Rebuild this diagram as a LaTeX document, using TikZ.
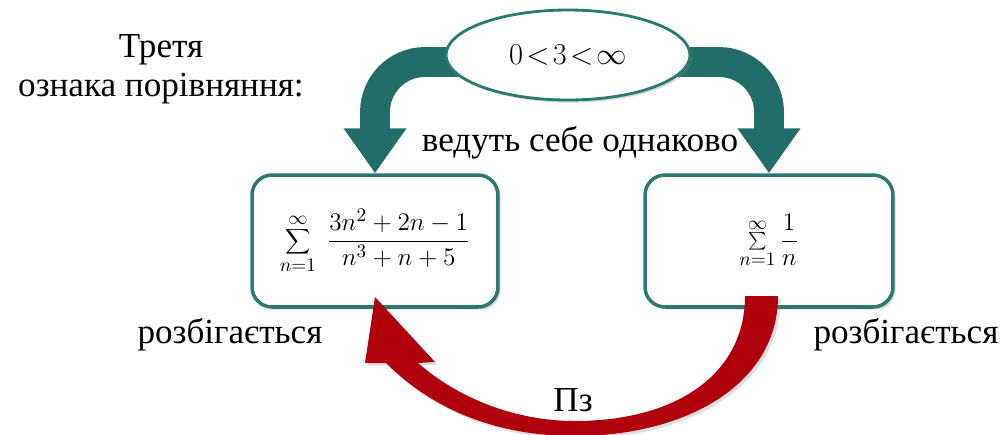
\documentclass[tikz,border=0pt]{standalone}
\usepackage{fontspec}
\setmainfont{Liberation Serif}
\usepackage{tikz}
\usetikzlibrary{arrows.meta,positioning,shapes.geometric,shadows,backgrounds}

\definecolor{seagreen}{HTML}{216D67}
\definecolor{boxgreen}{HTML}{2B7A71}
\definecolor{darkred}{HTML}{B0000C}

\begin{document}
\begin{tikzpicture}[
  x=0.02cm, y=-0.02cm,
  every node/.style={font=\fontsize{20}{22}\selectfont},
  series/.style={draw=boxgreen, line width=2pt, rounded corners=0.4cm, fill=white,
    minimum width=4.92cm, minimum height=2.64cm, font=\fontsize{15}{17}\selectfont,
    drop shadow={opacity=0.3, shadow xshift=1.5pt, shadow yshift=-1.5pt}},
  ratio/.style={ellipse, draw=boxgreen, line width=1.6pt, fill=white,
    minimum width=4.88cm, minimum height=1.8cm, font=\fontsize{19}{21}\selectfont,
    drop shadow={opacity=0.3, shadow xshift=1.5pt, shadow yshift=-1.5pt}},
  bandarrow/.style={draw=seagreen, line width=17pt, rounded corners=1cm,
    -{Triangle[width=1.2cm,length=0.9cm]}},
  note/.style={align=center}
]
\useasboundingbox (0,0) rectangle (1007,434);

\node[ratio] (ratio) at (568,55) {$0\!<\!3\!<\!\infty$};
\node[series] (series) at (375,241)
  {$\displaystyle\sum_{n=1}^{\infty}\;\frac{3n^2+2n-1}{n^3+n+5}$};
\node[series, minimum width=4.96cm] (harmonic) at (769,241)
  {$\sum\limits_{n=1}^{\infty}{\displaystyle\frac{1}{n}}$};

\node[note] (title) at (161,69) {Третя\\ознака порівняння:};
\node[note] (same) at (580,143) {ведуть себе однаково};
\node[note] (divl) at (230,335) {розбігається};
\node[note] (divr) at (906,335) {розбігається};

% teal arrows under the ellipse
\begin{scope}[on background layer]
  \draw[bandarrow] ([yshift=-0.14cm]ratio.center) -| (series.north);
  \draw[bandarrow] ([yshift=-0.14cm]ratio.center) -| (harmonic.north);
\end{scope}

% red curved arrow back to the first series
\fill[darkred, drop shadow={opacity=0.25, shadow xshift=1.5pt, shadow yshift=-1.5pt}]
  (778,296) .. controls (778,385) and (685,436) .. (575,436)
  .. controls (490,436) and (428,405) .. (386,363)
  -- (365,363) -- (375,297) -- (435,362) -- (418,363)
  .. controls (458,398) and (515,421) .. (575,421)
  .. controls (675,421) and (745,375) .. (745,296) -- cycle;
\node[note] (pz) at (573,400) {Пз};
\end{tikzpicture}
\end{document}
